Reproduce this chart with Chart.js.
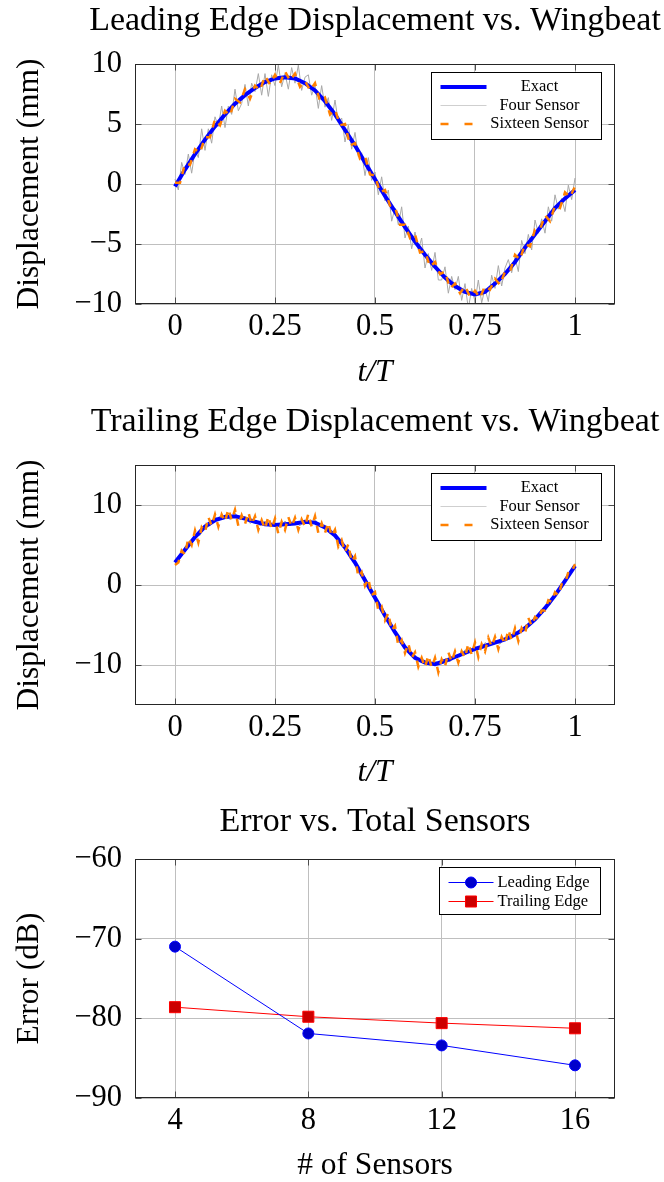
<!DOCTYPE html>
<html><head><meta charset="utf-8">
<script src="https://cdn.jsdelivr.net/npm/chart.js@4.4.0/dist/chart.umd.min.js"></script>
<style>
html,body{margin:0;padding:0;background:#fff;overflow:hidden;width:664px;height:1182px;}
canvas{position:absolute;left:0;}
</style></head><body>
<canvas id="c1" width="750" height="395" style="top:0px"></canvas>
<canvas id="c2" width="750" height="395" style="top:400px"></canvas>
<canvas id="c3" width="750" height="382" style="top:800px"></canvas>
<script>
// ---------- data ----------
const timeTicks = [0, 0.25, 0.5, 0.75, 1];
const leadingYTicks = [-10, -5, 0, 5, 10];
const trailingYTicks = [-10, 0, 10];
const sensorTicks = [4, 8, 12, 16];
const errorTicks = [-90, -80, -70, -60];

const leadingExact = [-0.2,1.2,2.5,3.7,4.8,5.8,6.7,7.4,8.0,8.5,8.8,8.9,8.8,8.4,7.8,6.9,5.8,4.5,3.2,1.8,0.4,-1.0,-2.3,-3.6,-4.8,-5.9,-6.9,-7.8,-8.5,-9.0,-9.2,-9.0,-8.3,-7.5,-6.5,-5.3,-4.2,-3.1,-2.0,-1.2,-0.5];
const leadingFour = [
 0.4,-0.5,1.8,0.8,2.5,0.9,2.8,2.2,4.6,2.8,4.6,3.4,5.6,4.8,6.5,4.7,6.5,5.8,7.9,6.1,
 6.7,8.3,6.5,8.4,7.7,9.2,7.4,9.2,7.3,9.1,8.2,9.9,8.1,9.2,7.9,9.7,8.4,9.9,7.8,8.9,
 9.1,7.4,8.2,6.3,8.2,6.4,7.2,5.3,7.0,5.1,5.5,3.5,4.9,2.9,4.3,2.3,2.6,0.7,2.2,0.3,
 1.0,-0.9,0.6,-1.4,-0.5,-3.1,-2.0,-3.4,-1.9,-4.5,-3.5,-5.4,-4.0,-5.5,-4.5,-7.0,-5.8,-7.2,-5.7,-8.0,
 -8.0,-6.9,-9.1,-7.7,-8.8,-7.7,-9.7,-8.3,-10.4,-8.7,-9.8,-8.0,-9.9,-8.7,-9.8,-7.6,-8.7,-6.8,-8.5,-7.0,
 -6.3,-7.4,-6.1,-7.3,-4.7,-5.8,-4.2,-5.5,-3.0,-4.1,-2.9,-4.1,-1.9,-3.1,-0.9,-2.1,-1.2,-2.3,-0.1,-1.3,
 0.5];
const leadingSixteen = [
 0.1,0.1,1.7,1.6,2.9,2.6,3.9,3.9,5.4,4.9,
 6.1,5.7,7.1,6.8,7.9,7.1,8.2,7.8,9.0,8.3,
 9.1,8.4,9.4,8.6,9.2,8.1,8.6,7.8,8.4,6.9,
 7.2,5.8,6.2,4.9,5.0,3.2,3.4,2.1,2.3,0.8,
 0.7,-0.7,-0.5,-1.8,-1.9,-3.4,-3.4,-4.5,-4.2,-5.7,
 -5.6,-6.9,-6.5,-7.5,-7.3,-8.7,-8.3,-9.1,-8.5,-9.4,
 -8.9,-9.5,-8.5,-8.8,-7.9,-8.4,-7.3,-7.3,-5.9,-6.3,
 -5.0,-5.2,-3.8,-3.8,-2.6,-3.1,-1.8,-2.0,-0.7,-1.1,
 -0.2];

const trailingExact = [2.8,4.4,6.0,7.3,8.1,8.5,8.6,8.3,7.9,7.6,7.5,7.6,7.7,7.9,7.8,7.2,6.2,4.7,2.8,0.6,-1.6,-3.8,-5.9,-7.8,-9.1,-9.7,-9.9,-9.5,-9.0,-8.5,-8.0,-7.6,-7.2,-6.8,-6.2,-5.4,-4.3,-2.9,-1.3,0.5,2.4];
const trailingFour = [
 3.1,3.3,4.8,5.0,6.3,6.2,7.5,7.4,8.5,8.1,
 8.8,8.2,9.0,8.2,8.6,7.7,8.1,7.4,8.0,7.3,
 7.8,7.2,8.0,7.4,8.0,7.4,8.1,7.5,8.2,7.3,
 7.5,6.4,6.6,5.2,5.0,3.3,3.0,1.4,1.0,-0.7,
 -1.3,-3.0,-3.4,-5.0,-5.6,-7.2,-7.6,-8.7,-8.7,-9.6,
 -9.4,-10.1,-9.5,-9.9,-9.2,-9.6,-8.8,-9.0,-8.1,-8.4,
 -7.7,-8.1,-7.2,-7.6,-6.9,-7.4,-6.6,-6.8,-5.8,-6.0,
 -5.1,-5.1,-3.9,-3.8,-2.6,-2.5,-1.1,-0.7,0.9,1.2,
 2.7];
const trailingSixteen = [
 2.5,2.8,4.3,3.8,5.9,5.0,6.8,5.3,7.2,6.6,8.5,7.4,
 8.8,7.3,8.8,7.9,9.5,8.1,9.4,7.4,8.7,7.6,9.1,7.6,
 8.6,6.9,8.1,7.0,8.6,7.0,8.3,6.4,7.9,6.9,8.5,7.3,
 8.4,6.9,8.2,7.3,8.9,7.3,8.6,6.5,7.7,6.5,7.8,6.1,
 6.9,4.8,5.6,4.1,5.1,2.9,3.6,1.0,1.6,-0.1,0.8,-1.3,
 -0.9,-3.2,-2.7,-4.4,-3.5,-5.7,-5.1,-7.6,-6.9,-8.5,-7.3,-9.1,
 -8.4,-10.2,-9.1,-10.3,-8.8,-10.3,-9.1,-10.9,-9.3,-10.2,-8.4,-9.6,
 -8.3,-9.7,-8.3,-9.1,-7.3,-8.7,-7.2,-9.0,-7.4,-8.3,-6.6,-7.7,
 -6.5,-8.0,-6.5,-7.4,-5.6,-6.9,-5.4,-7.0,-5.4,-6.1,-4.1,-5.1,
 -4.0,-4.3,-3.2,-3.2,-1.9,-2.1,-0.9,-1.3,0.1,0.2,1.6,1.6,
 2.6];

const sensorCounts = [4, 8, 12, 16];
const leadingError = [-71.0, -81.9, -83.4, -85.9];
const trailingError = [-78.6, -79.8, -80.6, -81.25];

// ---------- styling / helpers ----------
const SERIF = "'Liberation Serif','Times New Roman',serif";
const GRID = '#bfbfbf';
function fmt(v){ return v < 0 ? '\u2212' + String(Math.abs(v)) : String(v); }
function series(values){ const n = values.length - 1; return values.map((v,i)=>({x:i/n, y:v})); }

const framePlugin = {
  id:'frame',
  afterDatasetsDraw(chart){
    const {ctx, chartArea:a, scales} = chart;
    const L = Math.round(a.left)+0.5, R = Math.round(a.right)-0.5, T = Math.round(a.top)+0.5, B = Math.round(a.bottom)-0.5;
    ctx.save();
    ctx.lineWidth = 1; ctx.strokeStyle = '#4d4d4d';
    ctx.beginPath();
    scales.x.ticks.forEach(t=>{
      const p = Math.round(scales.x.getPixelForValue(t.value))+0.5;
      ctx.moveTo(p,T); ctx.lineTo(p,T+6); ctx.moveTo(p,B); ctx.lineTo(p,B-6);
    });
    scales.y.ticks.forEach(t=>{
      const p = Math.round(scales.y.getPixelForValue(t.value))+0.5;
      ctx.moveTo(L,p); ctx.lineTo(L+6,p); ctx.moveTo(R,p); ctx.lineTo(R-6,p);
    });
    ctx.stroke();
    ctx.strokeStyle = '#262626';
    ctx.strokeRect(L, T, R-L, B-T);
    ctx.restore();
  }
};

const boxLegend = {
  id:'boxLegend',
  afterDraw(chart, args, o){
    if (!o || !o.items) return;
    const {ctx, chartArea:a} = chart;
    const L = Math.round(a.right - o.right - o.width)+0.5, T = Math.round(a.top + o.top)+0.5;
    ctx.save();
    ctx.fillStyle = '#fff'; ctx.fillRect(L, T, o.width, o.height);
    ctx.strokeStyle = '#000'; ctx.lineWidth = 1; ctx.strokeRect(L, T, o.width, o.height);
    ctx.font = o.fontSize + 'px ' + SERIF;
    ctx.textBaseline = 'middle';
    o.items.forEach(it=>{
      const ds = chart.data.datasets[it.ds];
      const y = T + it.y;
      ctx.beginPath();
      ctx.strokeStyle = it.color || ds.borderColor;
      ctx.lineWidth = ds.borderWidth;
      ctx.lineCap = 'butt';
      ctx.setLineDash(it.dash || []);
      ctx.moveTo(L + o.lineX0, y); ctx.lineTo(L + o.lineX1, y); ctx.stroke();
      ctx.setLineDash([]);
      if (o.markerX){
        ctx.fillStyle = ds.pointBackgroundColor; ctx.strokeStyle = ds.pointBorderColor; ctx.lineWidth = 1;
        Chart.helpers.drawPoint(ctx, {pointStyle: ds.pointStyle, radius: ds.pointRadius, rotation:0, borderWidth:1}, L + o.markerX, y);
      }
      ctx.fillStyle = '#000';
      ctx.textAlign = o.textAlign;
      ctx.fillText(ds.label, L + o.textX, y);
    });
    ctx.restore();
  }
};

function makeChart(id, cfg){
  const H = document.getElementById(id).height;
  return new Chart(document.getElementById(id), {
    type:'line',
    data:{datasets: cfg.datasets},
    plugins:[framePlugin, boxLegend],
    options:{
      responsive:false, animation:false, devicePixelRatio:1,
      layout:{padding:{left:0, right:0, top:0, bottom:0}},
      plugins:{
        legend:{display:false}, tooltip:{enabled:false},
        title:{display:true, text:cfg.title, color:'#000', font:{family:SERIF, size:34, weight:'normal', lineHeight:1}, padding:{top:cfg.titleTop, bottom:cfg.titleBottom}},
        boxLegend: cfg.legend
      },
      scales:{
        x:{type:'linear', min:cfg.xMin, max:cfg.xMax,
          afterBuildTicks: s=>{ s.ticks = cfg.xTicks.map(v=>({value:v})); },
          afterFit: s=>{ s.height = H - cfg.areaBottom; },
          grid:{color:GRID, lineWidth:1, drawTicks:false}, border:{display:false},
          ticks:{color:'#000', font:{family:SERIF, size:30.5}, padding:cfg.xTickPad, maxRotation:0, autoSkip:false, callback:v=>fmt(v)},
          title:{display:true, text:cfg.xTitle, color:'#000', font:{family:SERIF, size:31.5, style:cfg.xItalic?'italic':'normal', lineHeight:1}, padding:{top:0, bottom:cfg.xTitlePad}}
        },
        y:{type:'linear', position:'left', min:cfg.yMin, max:cfg.yMax,
          afterBuildTicks: s=>{ s.ticks = cfg.yTicks.map(v=>({value:v})); },
          afterFit: s=>{ s.width = 135; },
          grid:{color:GRID, lineWidth:1, drawTicks:false}, border:{display:false},
          ticks:{color:'#000', font:{family:SERIF, size:30.5}, padding:13, autoSkip:false, callback:v=>fmt(v)},
          title:{display:true, text:cfg.yTitle, color:'#000', font:{family:SERIF, size:31.5, lineHeight:1}, padding:{top:14, bottom:0}}
        },
        yRightSpace:{type:'linear', position:'right', min:cfg.yMin, max:cfg.yMax,
          afterFit: s=>{ s.width = 135; },
          grid:{display:false, drawTicks:false}, border:{display:false},
          ticks:{display:false}, title:{display:false}
        }
      }
    }
  });
}

function waveDatasets(exact, four, sixteen){
  return [
    {label:'Exact', data:series(exact), borderColor:'#0000ff', borderWidth:4, pointRadius:0, order:1},
    {label:'Four Sensor', data:series(four), borderColor:'#a8a8a8', borderWidth:1, pointRadius:0, order:2},
    {label:'Sixteen Sensor', data:series(sixteen), borderColor:'#ff8000', borderWidth:2.5, borderDash:[7,7], pointRadius:0, order:0}
  ];
}
const waveLegend = {right:14, top:7.5, width:170, height:67, lineX0:9, lineX1:55, textX:108, textAlign:'center', fontSize:16.5,
  items:[{ds:0, y:14.5}, {ds:1, y:33, color:'#cfcfcf'}, {ds:2, y:51.5, dash:[8,16]}]};

makeChart('c1', {
  title:'Leading Edge Displacement vs. Wingbeat', titleTop:4, titleBottom:26,
  datasets: waveDatasets(leadingExact, leadingFour, leadingSixteen),
  xMin:-0.1, xMax:1.1, xTicks:timeTicks, xTitle:'t/T', xItalic:true, xTickPad:5, xTitlePad:7, areaBottom:304,
  yMin:-10, yMax:10, yTicks:leadingYTicks, yTitle:'Displacement (mm)',
  legend: waveLegend
});
makeChart('c2', {
  title:'Trailing Edge Displacement vs. Wingbeat', titleTop:5, titleBottom:26,
  datasets: waveDatasets(trailingExact, trailingFour, trailingSixteen),
  xMin:-0.1, xMax:1.1, xTicks:timeTicks, xTitle:'t/T', xItalic:true, xTickPad:5, xTitlePad:7, areaBottom:305,
  yMin:-15, yMax:15, yTicks:trailingYTicks, yTitle:'Displacement (mm)',
  legend: waveLegend
});
makeChart('c3', {
  title:'Error vs. Total Sensors', titleTop:5, titleBottom:20,
  datasets:[
    {label:'Leading Edge', data:sensorCounts.map((x,i)=>({x, y:leadingError[i]})), borderColor:'#0000ff', backgroundColor:'#0000cc',
     pointBackgroundColor:'#0000cc', pointBorderColor:'#0000ff', pointStyle:'circle', pointRadius:5.5, pointBorderWidth:1, borderWidth:1},
    {label:'Trailing Edge', data:sensorCounts.map((x,i)=>({x, y:trailingError[i]})), borderColor:'#ff0000', backgroundColor:'#cc0000',
     pointBackgroundColor:'#cc0000', pointBorderColor:'#ff0000', pointStyle:'rect', pointRadius:7.8, pointBorderWidth:1, borderWidth:1}
  ],
  xMin:2.8, xMax:17.2, xTicks:sensorTicks, xTitle:'# of Sensors', xItalic:false, xTickPad:5, xTitlePad:1, areaBottom:298,
  yMin:-90, yMax:-60, yTicks:errorTicks, yTitle:'Error (dB)',
  legend:{right:15, top:8, width:161, height:47, lineX0:9, lineX1:54, markerX:31.5, textX:58, textAlign:'left', fontSize:16.5,
    items:[{ds:0, y:15}, {ds:1, y:34}]}
});
</script>
</body></html>
